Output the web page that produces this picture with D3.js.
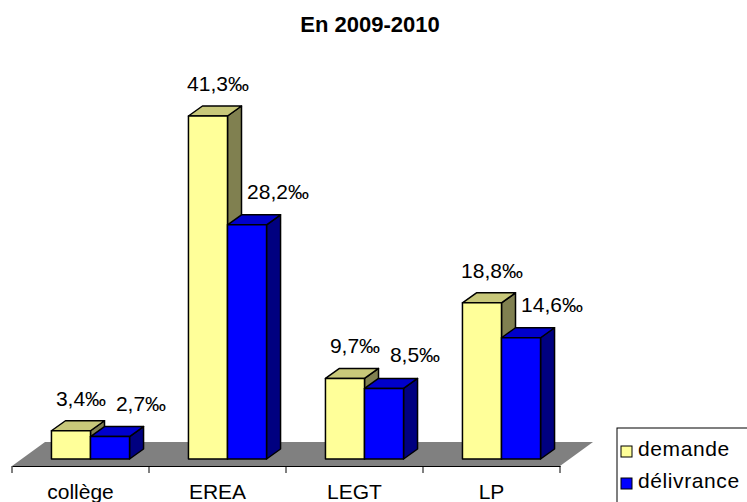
<!DOCTYPE html>
<html>
<head>
<meta charset="utf-8">
<script src="https://cdn.jsdelivr.net/npm/d3@7"></script>
<style>
  body { margin: 0; background: #fff; }
  text { font-family: "Liberation Sans", Arial, sans-serif; }
</style>
</head>
<body>
<div id="chart"></div>
<script>
const categories = ["collège", "EREA", "LEGT", "LP"];
const series = ["demande", "délivrance"];
const demande = [3.4, 41.3, 9.7, 18.8];
const delivrance = [2.7, 28.2, 8.5, 14.6];
const valueLabels = [
  ["3,4‰", "41,3‰", "9,7‰", "18,8‰"],
  ["2,7‰", "28,2‰", "8,5‰", "14,6‰"]
];

const width = 747, height = 502;
const floorY = 466;          // front edge of the floor
const floorDepth = { dx: 33, dy: -24 };
const barShift = { dx: 10, dy: -7 };   // bars sit in the middle of the floor depth
const barDepth = { dx: 14, dy: -10 };

const colors = {
  "demande": { front: "#FFFF99", top: "#C8C87A", side: "#808050" },
  "délivrance": { front: "#0000FF", top: "#0000CC", side: "#000080" }
};

const svg = d3.select("#chart").append("svg")
  .attr("width", width)
  .attr("height", height);

const x = d3.scaleBand()
  .domain(categories)
  .range([12, 560])
  .paddingInner(0.43)
  .paddingOuter(0.215);

const x1 = d3.scaleBand()
  .domain(series)
  .range([0, x.bandwidth()]);

const base = floorY + barShift.dy;
const y = d3.scaleLinear()
  .domain([0, 45])
  .range([base, base - 45 * 8.305]);

// title
svg.append("text")
  .attr("x", 370)
  .attr("y", 32)
  .attr("text-anchor", "middle")
  .style("font-size", "22px")
  .style("font-weight", "bold")
  .text("En 2009-2010");

// floor
const x0 = x.range()[0], xEnd = x.range()[1];
svg.append("path")
  .attr("d", `M${x0},${floorY}L${x0 + floorDepth.dx},${floorY + floorDepth.dy}L${xEnd + floorDepth.dx},${floorY + floorDepth.dy}L${xEnd},${floorY}Z`)
  .attr("fill", "#808080");

// bars
const rows = categories.map((c, i) => ({ cat: c, i, values: [demande[i], delivrance[i]] }));

rows.forEach(r => {
  const g = svg.append("g");
  series.forEach((s, si) => {
    const v = r.values[si];
    const left = x(r.cat) + x1(s) + barShift.dx;
    const right = left + x1.bandwidth();
    const top = y(v);
    const dx = barDepth.dx, dy = barDepth.dy;
    const col = colors[s];
    const bar = g.append("g")
      .attr("stroke", "#000")
      .attr("stroke-width", 1.5)
      .attr("stroke-linejoin", "round");
    bar.append("path")
      .attr("d", `M${right},${base}L${right + dx},${base + dy}L${right + dx},${top + dy}L${right},${top}Z`)
      .attr("fill", col.side);
    bar.append("path")
      .attr("d", `M${left},${top}L${left + dx},${top + dy}L${right + dx},${top + dy}L${right},${top}Z`)
      .attr("fill", col.top);
    bar.append("rect")
      .attr("x", left)
      .attr("y", top)
      .attr("width", right - left)
      .attr("height", base - top)
      .attr("fill", col.front);
  });
});

// value labels
series.forEach((s, si) => {
  const off = si === 0 ? { dx: 10, dy: -25 } : { dx: 31, dy: -26 };
  svg.selectAll(`text.lab${si}`)
    .data(rows)
    .enter()
    .append("text")
    .attr("class", `lab${si}`)
    .attr("x", d => x(d.cat) + x1(s) + barShift.dx + x1.bandwidth() / 2 + off.dx)
    .attr("y", d => y(d.values[si]) + off.dy)
    .attr("text-anchor", "middle")
    .style("font-size", "21px")
    .text(d => valueLabels[si][d.i]);
});

// category axis on the floor front edge
const axis = svg.append("g")
  .attr("transform", `translate(0,${floorY})`)
  .call(d3.axisBottom(x).tickSize(0).tickPadding(0));
axis.select(".domain").attr("stroke", "#000").attr("stroke-width", 1.2);
axis.selectAll(".tick text")
  .attr("y", 33)
  .attr("dy", 0)
  .style("font-size", "21px")
  .style("font-family", "'Liberation Sans', Arial, sans-serif")
  .attr("fill", "#000");

const bounds = categories.map(c => x(c) - x.step() * x.paddingInner() / 2);
bounds.push(xEnd);
bounds[0] = x0;
axis.selectAll("line.sep")
  .data(bounds)
  .enter()
  .append("line")
  .attr("class", "sep")
  .attr("x1", d => d).attr("x2", d => d)
  .attr("y1", 0).attr("y2", 7)
  .attr("stroke", "#000");

// legend
const legend = svg.append("g").attr("transform", "translate(617,428)");
legend.append("rect")
  .attr("x", 0).attr("y", 0)
  .attr("width", 140).attr("height", 90)
  .attr("fill", "#fff")
  .attr("stroke", "#000");
series.forEach((s, si) => {
  legend.append("rect")
    .attr("x", 4).attr("y", 18 + si * 32)
    .attr("width", 11).attr("height", 11)
    .attr("fill", colors[s].front)
    .attr("stroke", "#000");
  legend.append("text")
    .attr("x", 21).attr("y", 28 + si * 32)
    .style("font-size", "21px")
    .style("letter-spacing", "0.6px")
    .text(s);
});
</script>
</body>
</html>
